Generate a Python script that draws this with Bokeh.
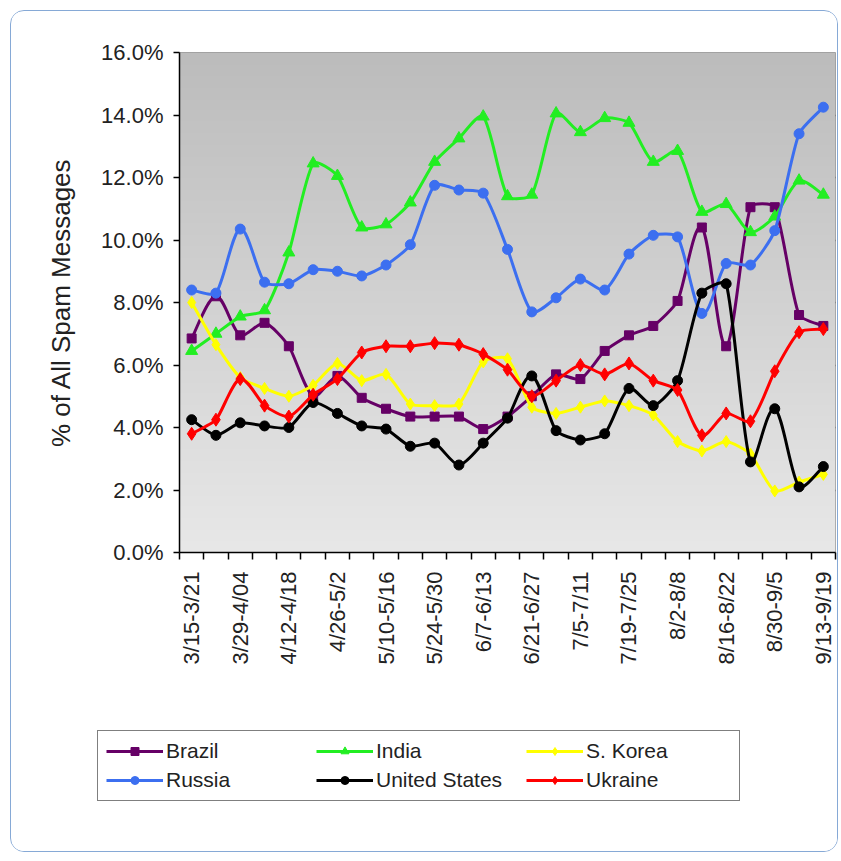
import numpy as np
from bokeh.plotting import figure
from bokeh.layouts import column
from bokeh.models import Range1d, FixedTicker, PrintfTickFormatter, Legend, LegendItem
from bokeh.embed import file_html
from bokeh.resources import INLINE

# ---------------- data (percent of all spam messages, weekly) ----------------
tick_labels = ["3/15-3/21", "3/29-4/04", "4/12-4/18", "4/26-5/2", "5/10-5/16",
               "5/24-5/30", "6/7-6/13", "6/21-6/27", "7/5-7/11", "7/19-7/25",
               "8/2-8/8", "8/16-8/22", "8/30-9/5", "9/13-9/19"]
n_weeks = 27

brazil = [6.85, 8.2, 6.95, 7.35, 6.6, 5.0, 5.65, 4.95, 4.6, 4.35, 4.35, 4.35, 3.95, 4.35,
          5.0, 5.7, 5.55, 6.45, 6.95, 7.25, 8.05, 10.4, 6.6, 11.05, 11.05, 7.6, 7.25]
india = [6.45, 7.0, 7.55, 7.75, 9.6, 12.45, 12.05, 10.4, 10.5, 11.2, 12.5, 13.25, 13.95, 11.4,
         11.45, 14.05, 13.45, 13.9, 13.75, 12.5, 12.85, 10.9, 11.15, 10.25, 10.75, 11.9, 11.45]
s_korea = [8.0, 6.65, 5.6, 5.25, 5.0, 5.35, 6.05, 5.5, 5.7, 4.75, 4.7, 4.75, 6.1, 6.2,
           4.65, 4.45, 4.65, 4.85, 4.7, 4.4, 3.55, 3.25, 3.55, 3.15, 1.97, 2.25, 2.5]
russia = [8.4, 8.3, 10.35, 8.65, 8.6, 9.05, 9.0, 8.85, 9.2, 9.85, 11.75, 11.6, 11.5, 9.7,
          7.7, 8.15, 8.75, 8.4, 9.55, 10.15, 10.1, 7.65, 9.25, 9.2, 10.3, 13.4, 14.25]
united_states = [4.25, 3.75, 4.15, 4.05, 4.0, 4.8, 4.45, 4.05, 3.95, 3.4, 3.5, 2.8, 3.5, 4.3,
                 5.65, 3.9, 3.6, 3.8, 5.25, 4.7, 5.5, 8.3, 8.6, 2.9, 4.6, 2.1, 2.75]
ukraine = [3.8, 4.25, 5.55, 4.7, 4.35, 5.05, 5.55, 6.4, 6.6, 6.6, 6.7, 6.65, 6.35, 5.85,
           5.0, 5.5, 6.0, 5.7, 6.05, 5.5, 5.2, 3.75, 4.45, 4.2, 5.8, 7.05, 7.15]

series_names = ["Brazil", "India", "S. Korea", "Russia", "United States", "Ukraine"]
series_values = [brazil, india, s_korea, russia, united_states, ukraine]
series_colors = ["#660066", "#22ee22", "#ffff00", "#3c6ff0", "#000000", "#ff0000"]
series_markers = ["square", "triangle", "diamond", "circle", "circle", "diamond"]
marker_sizes = [9, 12, 12, 10, 10, 13]

y_ticks = [0, 2, 4, 6, 8, 10, 12, 14, 16]

# ---------------- layout ----------------
FRAME_W, FRAME_H = 656, 500
BORDER_L, BORDER_R, BORDER_T, BORDER_B = 168, 2, 41, 140
CANVAS_W = BORDER_L + FRAME_W + BORDER_R
LEGEND_FIG_H = 159
SX = FRAME_W / n_weeks      # px per category
SY = FRAME_H / 16.0         # px per percent
FONT = "Liberation Sans"

p = figure(frame_width=FRAME_W, frame_height=FRAME_H,
           min_border_left=BORDER_L, min_border_right=BORDER_R,
           min_border_top=BORDER_T, min_border_bottom=BORDER_B,
           x_range=Range1d(-0.5, n_weeks - 0.5), y_range=Range1d(0, 16),
           output_backend="svg", toolbar_location=None, tools="")
p.border_fill_color = "white"
p.outline_line_color = "#9a9a9a"
p.outline_line_width = 1

# gradient plot-area background
rows = 256
g = np.linspace(232, 188, rows).astype(np.uint32)
img = (g | (g << 8) | (g << 16) | (np.uint32(255) << 24)).reshape(rows, 1)
p.image_rgba(image=[img], x=-0.5, y=0, dw=n_weeks, dh=16)

# grid
p.xgrid.visible = False
p.ygrid.ticker = FixedTicker(ticks=y_ticks[1:-1])
p.ygrid.grid_line_color = "black"
p.ygrid.grid_line_width = 1.6

# y axis
ya = p.yaxis[0]
ya.ticker = FixedTicker(ticks=y_ticks)
ya.formatter = PrintfTickFormatter(format="%.1f%%")
ya.axis_label = "% of All Spam Messages"
ya.axis_label_text_font = FONT
ya.axis_label_text_font_size = "26px"
ya.axis_label_text_font_style = "normal"
ya.axis_label_text_color = "#222222"
ya.axis_label_standoff = 22
ya.major_label_text_font = FONT
ya.major_label_text_font_size = "22px"
ya.major_label_text_color = "#222222"
ya.major_label_standoff = 10
ya.major_tick_out = 6
ya.major_tick_in = 0
ya.minor_tick_line_color = None
ya.axis_line_width = 1.5
ya.major_tick_line_width = 1.5

# x axis (labels on categories, tick marks between categories)
xa = p.xaxis[0]
label_pos = [float(2 * i) for i in range(len(tick_labels))]
xa.ticker = FixedTicker(ticks=label_pos, minor_ticks=[i - 0.5 for i in range(n_weeks + 1)])
xa.major_label_overrides = {pos: lbl for pos, lbl in zip(label_pos, tick_labels)}
xa.major_label_orientation = np.pi / 2
xa.major_label_text_font = FONT
xa.major_label_text_font_size = "22px"
xa.major_label_text_color = "#222222"
xa.major_label_standoff = 12
xa.major_tick_out = 0
xa.major_tick_in = 0
xa.minor_tick_out = 7
xa.minor_tick_in = 0
xa.minor_tick_line_color = "black"
xa.minor_tick_line_width = 1.5
xa.axis_line_width = 1.5


def smooth_segments(vals):
    """Excel-like smoothed line: cubic Bezier segments through the data points."""
    y = np.asarray(vals, dtype=float)
    n = len(y)
    px = np.arange(n, dtype=float) * SX
    py = y * SY
    out = {k: [] for k in ("x0", "y0", "x1", "y1", "cx0", "cy0", "cx1", "cy1")}

    def tan(i):
        a, b = max(i - 1, 0), min(i + 1, n - 1)
        return (px[b] - px[a]) / 6.0, (py[b] - py[a]) / 6.0

    def clamp(tx, ty, lim):
        L = np.hypot(tx, ty)
        if L > lim and L > 0:
            return tx * lim / L, ty * lim / L
        return tx, ty

    for i in range(n - 1):
        seg = np.hypot(px[i + 1] - px[i], py[i + 1] - py[i])
        t0x, t0y = clamp(*tan(i), seg * 0.2)
        t1x, t1y = clamp(*tan(i + 1), seg * 0.2)
        out["x0"].append(px[i] / SX); out["y0"].append(py[i] / SY)
        out["x1"].append(px[i + 1] / SX); out["y1"].append(py[i + 1] / SY)
        out["cx0"].append((px[i] + t0x) / SX); out["cy0"].append((py[i] + t0y) / SY)
        out["cx1"].append((px[i + 1] - t1x) / SX); out["cy1"].append((py[i + 1] - t1y) / SY)
    return out


weeks = list(range(n_weeks))
for vals, col, mk, ms in zip(series_values, series_colors, series_markers, marker_sizes):
    s = smooth_segments(vals)
    p.bezier(x0=s["x0"], y0=s["y0"], x1=s["x1"], y1=s["y1"],
             cx0=s["cx0"], cy0=s["cy0"], cx1=s["cx1"], cy1=s["cy1"],
             line_color=col, line_width=3)
    p.scatter(weeks, vals, marker=mk, size=ms, fill_color=col, line_color=col)

# ---------------- legend strip (separate canvas under the chart) ----------------
pl = figure(frame_width=CANVAS_W, frame_height=LEGEND_FIG_H,
            min_border_left=0, min_border_right=0, min_border_top=0, min_border_bottom=0,
            x_range=Range1d(0, 1), y_range=Range1d(0, 1),
            x_axis_location=None, y_axis_location=None,
            output_backend="svg", toolbar_location=None, tools="")
pl.grid.visible = False
pl.outline_line_color = None
pl.border_fill_color = "white"
pl.background_fill_color = "white"

legend_items = {}
nan = float("nan")
for name, col, mk, ms in zip(series_names, series_colors, series_markers, marker_sizes):
    # legend-only renderers (no visible data)
    r_line = pl.line(x=[nan, nan], y=[nan, nan], line_color=col, line_width=3)
    r_pts = pl.scatter(x=[nan], y=[nan], marker=mk, size=ms, fill_color=col, line_color=col)
    legend_items[name] = LegendItem(label=name, renderers=[r_line, r_pts])

# legend grid is filled column by column: reorder so rows read Brazil/India/S. Korea, ...
ncols = 3
order = [series_names[r * ncols + c] for c in range(ncols) for r in range(2)]
legend = Legend(items=[legend_items[nm] for nm in order], ncols=ncols, location=(86, 50),
                label_text_font=FONT, label_text_font_size="21px",
                label_text_color="#222222",
                glyph_width=57, glyph_height=20, label_standoff=3,
                label_width=145, label_height=20, spacing=5, padding=8, margin=0,
                border_line_color="black", border_line_width=1.2,
                background_fill_color="white", background_fill_alpha=1.0)
pl.add_layout(legend, "center")

layout = column(p, pl, spacing=0)
layout.styles = {"margin-left": "10px", "margin-top": "10px",
                 "border": "1px solid #86a9d6", "border-radius": "14px",
                 "overflow": "hidden"}

open("out.html", "w").write(file_html(layout, INLINE))
